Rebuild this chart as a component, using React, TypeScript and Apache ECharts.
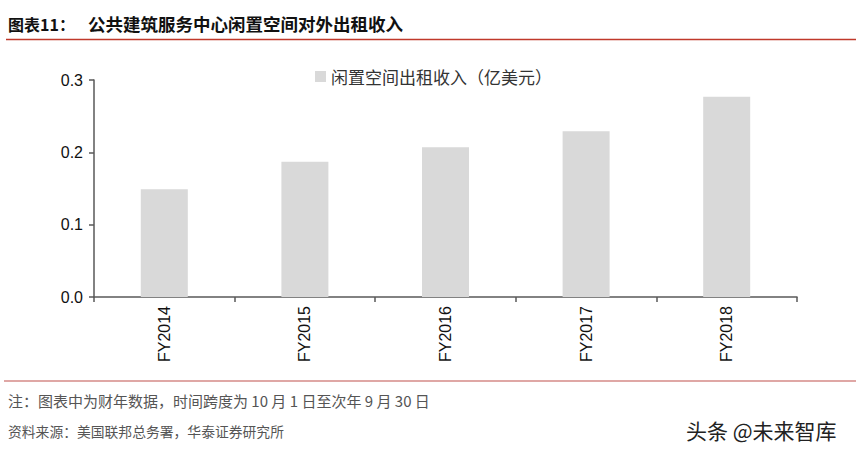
import React, { useEffect, useRef } from "react";
import * as echarts from "echarts";

const categories = ["FY2014", "FY2015", "FY2016", "FY2017", "FY2018"];
const rentIncome = [0.149, 0.187, 0.207, 0.229, 0.277];
const yTicks = [0, 0.1, 0.2, 0.3];
const seriesName = "闲置空间出租收入（亿美元）";
const titleLabel = "图表11：";
const titleText = "公共建筑服务中心闲置空间对外出租收入";
const noteText = "注：图表中为财年数据，时间跨度为 10 月 1 日至次年 9 月 30 日";
const sourceText = "资料来源：美国联邦总务署，华泰证券研究所";
const watermark = "头条 @未来智库";

const CJK = '"Noto Sans CJK SC", "Noto Sans", sans-serif';
const LATIN = '"Liberation Sans", Arial, sans-serif';

export default function App() {
  const ref = useRef<HTMLDivElement>(null);
  useEffect(() => {
    if (!ref.current) return;
    const chart = echarts.init(ref.current, undefined, { renderer: "svg" });
    chart.setOption({
      animation: false,
      backgroundColor: "#ffffff",
      grid: { left: 94, right: 59, top: 80, bottom: 153, containLabel: false },
      legend: {
        data: [seriesName],
        left: 310,
        top: 63,
        itemWidth: 11,
        itemHeight: 11,
        icon: "rect",
        itemGap: 4,
        textStyle: { fontFamily: CJK, fontSize: 17, color: "#333" },
      },
      xAxis: {
        type: "category",
        data: categories,
        axisLine: { lineStyle: { color: "#595959", width: 1.5 } },
        axisTick: { show: true, length: 5, alignWithLabel: false, lineStyle: { color: "#595959", width: 1.5 } },
        axisLabel: {
          rotate: 90,
          margin: 9,
          fontFamily: LATIN,
          fontSize: 16,
          color: "#111",
        },
      },
      yAxis: {
        type: "value",
        min: 0,
        max: 0.3,
        interval: 0.1,
        axisLine: { show: true, lineStyle: { color: "#595959", width: 1.5 } },
        axisTick: { show: true, length: 5, lineStyle: { color: "#595959", width: 1.5 } },
        splitLine: { show: false },
        axisLabel: {
          margin: 11,
          fontFamily: LATIN,
          fontSize: 16,
          color: "#111",
          formatter: (v: number) => (yTicks.includes(Math.round(v * 10) / 10) ? v.toFixed(1) : ""),
        },
      },
      series: [
        {
          name: seriesName,
          type: "bar",
          data: rentIncome,
          barWidth: 47,
          itemStyle: { color: "#d9d9d9" },
        },
      ],
      graphic: [
        {
          type: "text",
          left: 8,
          top: 16,
          style: { text: titleLabel, fontFamily: CJK, fontSize: 16, fontWeight: "bold", fill: "#111" },
        },
        {
          type: "text",
          left: 88,
          top: 15,
          style: { text: titleText, fontFamily: CJK, fontSize: 17.5, fontWeight: "bold", fill: "#111" },
        },
        {
          type: "line",
          shape: { x1: 6, y1: 39.5, x2: 856, y2: 39.5 },
          style: { stroke: "#c0392b", lineWidth: 1.5 },
        },
        {
          type: "line",
          shape: { x1: 4, y1: 381, x2: 856, y2: 381 },
          style: { stroke: "#c0504d", lineWidth: 1.2 },
        },
        {
          type: "text",
          left: 8,
          top: 393,
          style: { text: noteText, fontFamily: CJK, fontSize: 15, fill: "#555" },
        },
        {
          type: "text",
          left: 8,
          top: 424,
          style: { text: sourceText, fontFamily: CJK, fontSize: 13.8, fill: "#555" },
        },
        {
          type: "text",
          left: 686,
          top: 419,
          style: { text: watermark, fontFamily: CJK, fontSize: 21, fill: "#222" },
        },
      ],
    });
    return () => chart.dispose();
  }, []);
  return <div ref={ref} style={{ width: 856, height: 450, position: "absolute", left: 0, top: 0 }} />;
}
